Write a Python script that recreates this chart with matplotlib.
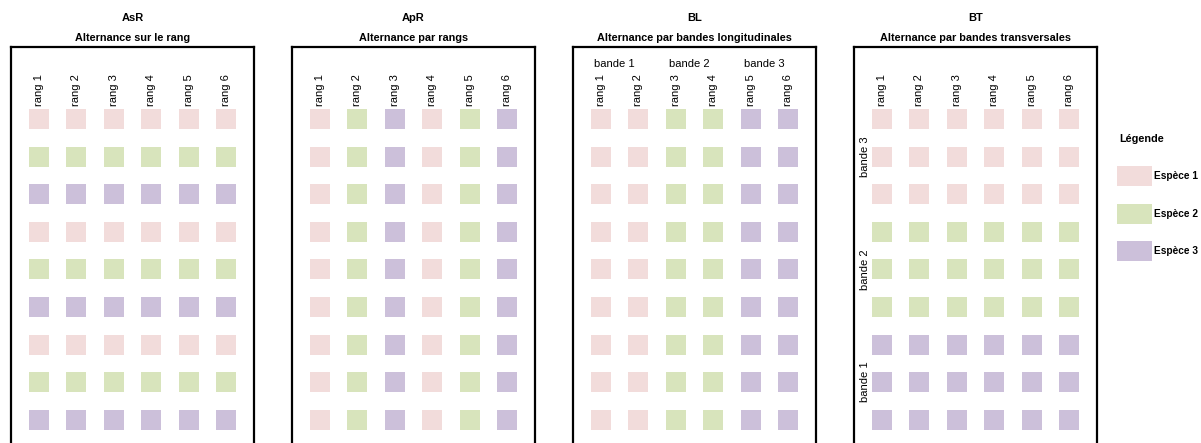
import matplotlib.pyplot as plt
from matplotlib.patches import Rectangle

plt.rcParams['font.family'] = ['Liberation Sans', 'DejaVu Sans']

species = ["Espèce 1", "Espèce 2", "Espèce 3"]
colors = ["#F2DCDB", "#D8E4BC", "#CCC0DA"]

codes = ["AsR", "ApR", "BL", "BT"]
titles = ["Alternance sur le rang", "Alternance par rangs",
          "Alternance par bandes longitudinales", "Alternance par bandes transversales"]
rangs = ["rang 1", "rang 2", "rang 3", "rang 4", "rang 5", "rang 6"]
bandes = ["bande 1", "bande 2", "bande 3"]

# species index per row (9 rows) x column (6 rangs)
asr = [[0] * 6, [1] * 6, [2] * 6] * 3
apr = [[0, 1, 2, 0, 1, 2]] * 9
bl = [[0, 0, 1, 1, 2, 2]] * 9
bt = [[0] * 6] * 3 + [[1] * 6] * 3 + [[2] * 6] * 3
grids = [asr, apr, bl, bt]

W, H = 1201, 443
fig = plt.figure(figsize=(W / 100, H / 100), dpi=100)

sq = (20 * 72 / 100) ** 2
for p, grid in enumerate(grids):
    left = 11 + p * 281
    ax = fig.add_axes([left / W, 0, 243 / W, (H - 47) / H])
    ax.set_xlim(0.26, 6.74)
    ax.set_ylim(9.62, -0.915)
    for r, row in enumerate(grid):
        for c, s in enumerate(row):
            ax.scatter(c + 1, r + 1, marker='s', s=sq, color=colors[s], linewidths=0)
    for c, lab in enumerate(rangs):
        ax.text(c + 1, 0.66, lab, rotation=90, ha='center', va='bottom', fontsize=8)
    ax.set_xticks([])
    ax.set_yticks([])
    ax.spines['bottom'].set_visible(False)
    for s in ['left', 'top', 'right']:
        ax.spines[s].set_linewidth(1.6)
    cx = (left + 121.5) / W
    fig.text(cx, 1 - 18 / H, codes[p], ha='center', va='center', fontsize=8, fontweight='bold')
    fig.text(cx, 1 - 38 / H, titles[p], ha='center', va='center', fontsize=7.8, fontweight='bold')
    if codes[p] == "BL":
        for b, lab in enumerate(bandes):
            ax.text(2 * b + 1.35, -0.45, lab, ha='center', va='center', fontsize=8)
    if codes[p] == "BT":
        for b, lab in enumerate(bandes):
            ax.text(0.56, 8 - 3 * b, lab, rotation=90, ha='center', va='center', fontsize=8)

# legend
lax = fig.add_axes([0, 0, 1, 1])
lax.set_xlim(0, W)
lax.set_ylim(H, 0)
lax.axis('off')
lax.text(1119, 139, "Légende", ha='left', va='center', fontsize=7.8, fontweight='bold')
for i, name in enumerate(species):
    y = 176 + i * 37.5
    lax.add_patch(Rectangle((1117, y - 10), 35, 20, color=colors[i], lw=0))
    lax.text(1154, y, name, ha='left', va='center', fontsize=7.3, fontweight='bold')

fig.savefig("out.png", dpi=100)
